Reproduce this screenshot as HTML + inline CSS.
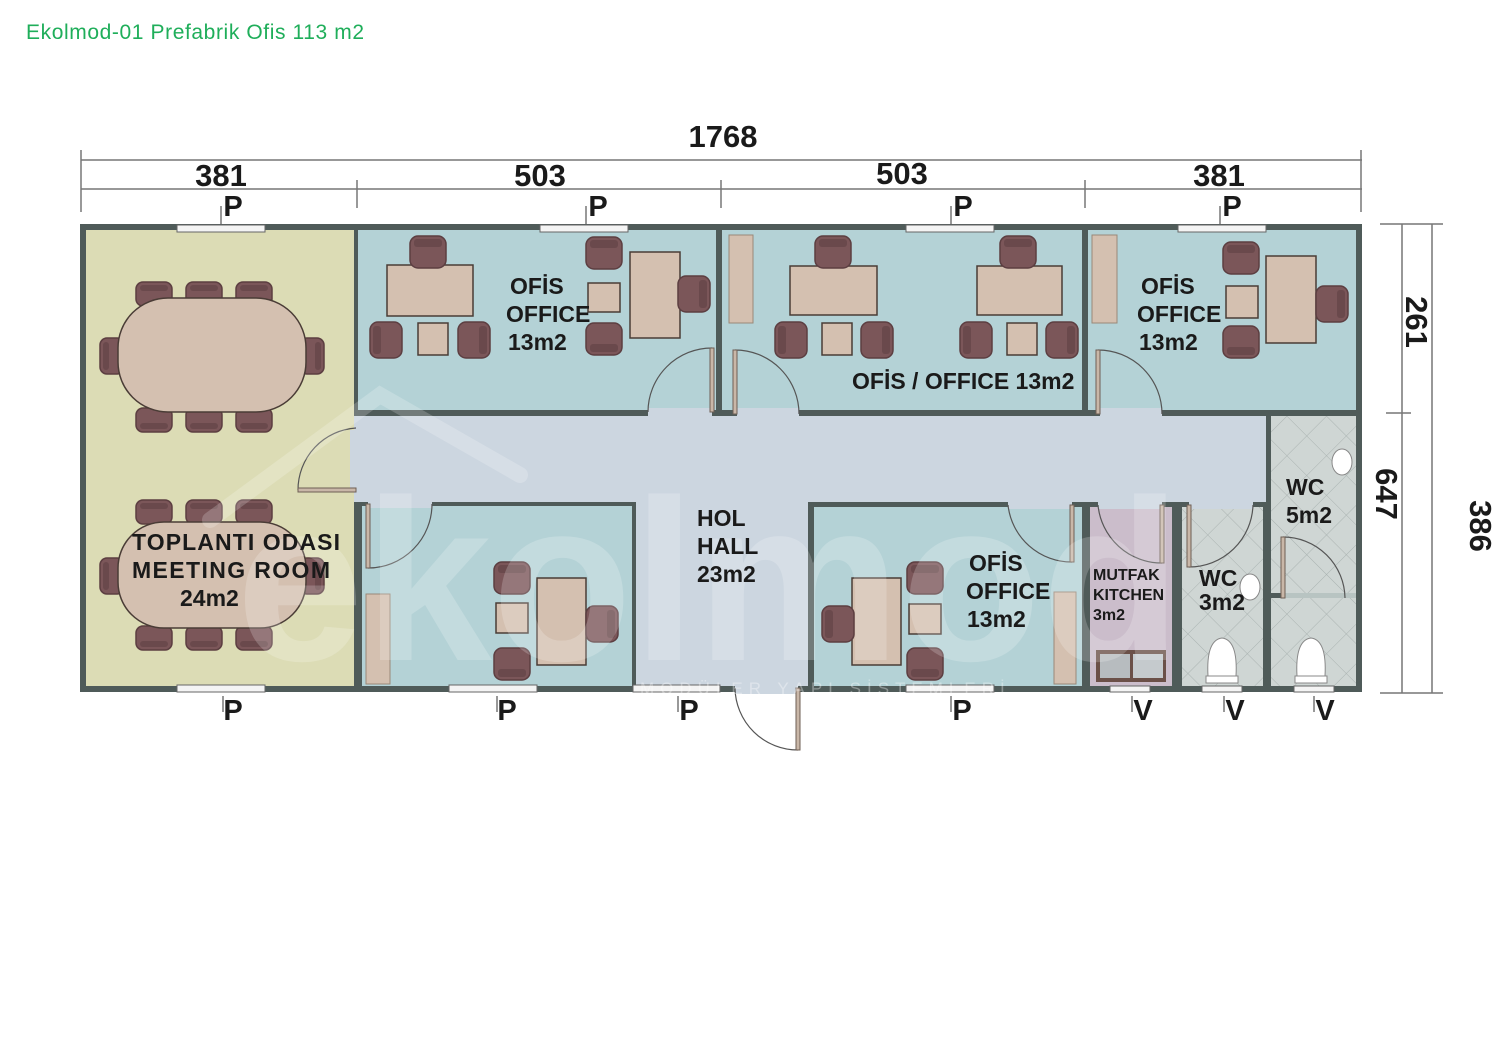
<!DOCTYPE html>
<html><head><meta charset="utf-8"><style>
html,body{margin:0;padding:0;background:#fff;}
svg{display:block;}
</style></head><body>
<svg width="1500" height="1040" viewBox="0 0 1500 1040" xmlns="http://www.w3.org/2000/svg" font-family="Liberation Sans, Arial, sans-serif">
<defs>
<pattern id="tile" width="28" height="28" patternUnits="userSpaceOnUse" patternTransform="rotate(45)">
<rect width="28" height="28" fill="#cfd6d4"/>
<path d="M0 0H28M0 0V28" stroke="#aab3b1" stroke-width="1" fill="none"/>
</pattern>
<g id="ch"><rect x="0" y="0" width="36" height="32" rx="8" fill="#7b5659" stroke="#5c3e41" stroke-width="1.5"/><rect x="4" y="3" width="28" height="8" rx="3" fill="#6a494c"/></g>
<g id="mc"><rect x="0" y="0" width="36" height="24" rx="7" fill="#7b5659" stroke="#5c3e41" stroke-width="1.5"/><rect x="4" y="3" width="28" height="6" rx="3" fill="#6a494c"/></g>
</defs>
<text x="26" y="39" font-size="21" fill="#1fae5a" letter-spacing="0.6">Ekolmod-01 Prefabrik Ofis 113 m2</text>

<!-- dimensions -->
<g stroke="#777" stroke-width="1.5" fill="none">
<line x1="81" y1="160" x2="1362" y2="160"/>
<line x1="81" y1="189" x2="1362" y2="189"/>
<line x1="81" y1="150" x2="81" y2="212"/>
<line x1="1361" y1="150" x2="1361" y2="212"/>
<line x1="357" y1="180" x2="357" y2="208"/>
<line x1="721" y1="180" x2="721" y2="208"/>
<line x1="1085" y1="180" x2="1085" y2="208"/>
<line x1="221" y1="206" x2="221" y2="224"/><line x1="586" y1="206" x2="586" y2="224"/><line x1="951" y1="206" x2="951" y2="224"/><line x1="1220" y1="206" x2="1220" y2="224"/>
<line x1="1402" y1="224" x2="1402" y2="693"/>
<line x1="1432" y1="224" x2="1432" y2="693"/>
<line x1="1380" y1="224" x2="1443" y2="224"/>
<line x1="1380" y1="693" x2="1443" y2="693"/>
<line x1="1386" y1="413" x2="1411" y2="413"/>
<line x1="223" y1="696" x2="223" y2="712"/><line x1="497" y1="696" x2="497" y2="712"/><line x1="678" y1="696" x2="678" y2="712"/><line x1="951" y1="696" x2="951" y2="712"/><line x1="1132" y1="696" x2="1132" y2="712"/><line x1="1224" y1="696" x2="1224" y2="712"/><line x1="1314" y1="696" x2="1314" y2="712"/>
</g>
<g font-size="31" font-weight="bold" fill="#1a1a1a" text-anchor="middle">
<text x="723" y="147">1768</text>
<text x="221" y="186">381</text>
<text x="540" y="186">503</text>
<text x="902" y="184">503</text>
<text x="1219" y="186">381</text>
<text transform="translate(1406,322) rotate(90)">261</text>
<text transform="translate(1376,494) rotate(90)">647</text>
<text transform="translate(1470,526) rotate(90)">386</text>
</g>
<g font-size="29" font-weight="bold" fill="#1a1a1a" text-anchor="middle">
<text x="233" y="216">P</text><text x="598" y="216">P</text><text x="963" y="216">P</text><text x="1232" y="216">P</text>
<text x="233" y="720">P</text><text x="507" y="720">P</text><text x="689" y="720">P</text><text x="962" y="720">P</text>
<text x="1143" y="720">V</text><text x="1235" y="720">V</text><text x="1325" y="720">V</text>
</g>

<!-- floors -->
<rect x="80" y="224" width="1282" height="468" fill="#4f5b59"/>
<rect x="86" y="230" width="268" height="456" fill="#dcdcb5"/>
<rect x="358" y="230" width="358" height="180" fill="#b4d2d6"/>
<rect x="722" y="230" width="360" height="180" fill="#b4d2d6"/>
<rect x="1088" y="230" width="268" height="180" fill="#b4d2d6"/>
<rect x="354" y="416" width="912" height="86" fill="#ccd6e0"/>
<rect x="636" y="500" width="172" height="186" fill="#ccd6e0"/>
<rect x="362" y="506" width="270" height="180" fill="#b4d2d6"/>
<rect x="814" y="507" width="268" height="179" fill="#b4d2d6"/>
<rect x="1090" y="507" width="82" height="179" fill="#cbbdcb"/>
<rect x="1182" y="507" width="81" height="179" fill="url(#tile)"/>
<rect x="1271" y="416" width="85" height="270" fill="url(#tile)"/>
<rect x="1271" y="593" width="85" height="5" fill="#b8c4c2"/>
<rect x="1263" y="593" width="22" height="5" fill="#4f5b59"/>

<!-- wall openings (doors) -->
<rect x="648" y="408" width="64" height="10" fill="#ccd6e0"/>
<rect x="737" y="408" width="62" height="10" fill="#ccd6e0"/>
<rect x="1100" y="408" width="62" height="10" fill="#ccd6e0"/>
<rect x="350" y="430" width="10" height="62" fill="#ccd6e0"/>
<rect x="368" y="498" width="64" height="10" fill="#ccd6e0"/>
<rect x="1008" y="499" width="64" height="10" fill="#ccd6e0"/>
<rect x="1098" y="499" width="64" height="10" fill="#ccd6e0"/>
<rect x="1189" y="499" width="64" height="10" fill="#ccd6e0"/>
<rect x="735" y="684" width="63" height="10" fill="#ccd6e0"/>

<!-- windows -->
<g fill="#f4f4f4" stroke="#666" stroke-width="1">
<rect x="177" y="225" width="88" height="7"/><rect x="540" y="225" width="88" height="7"/><rect x="906" y="225" width="88" height="7"/><rect x="1178" y="225" width="88" height="7"/>
<rect x="177" y="685" width="88" height="7"/><rect x="449" y="685" width="88" height="7"/><rect x="633" y="685" width="87" height="7"/><rect x="906" y="685" width="88" height="7"/>
<rect x="1110" y="686" width="40" height="6"/><rect x="1202" y="686" width="40" height="6"/><rect x="1294" y="686" width="40" height="6"/>
</g>

<!-- doors -->
<g fill="none" stroke="#555" stroke-width="1.2">
<path d="M648 412 A64 64 0 0 1 712 348"/>
<path d="M735 350 A64 64 0 0 1 799 414"/>
<path d="M1098 350 A64 64 0 0 1 1162 414"/>
<path d="M298 490 A62 62 0 0 1 356 428"/>
<path d="M432 504 A64 64 0 0 1 368 568"/>
<path d="M1008 505 A64 64 0 0 0 1072 562"/>
<path d="M1098 505 A64 64 0 0 0 1162 563"/>
<path d="M1253 505 A64 64 0 0 1 1189 567"/>
<path d="M1283 537 A62 62 0 0 1 1345 598"/>
<path d="M735 688 A63 63 0 0 0 798 750"/>
</g>
<g fill="#c9b7a8" stroke="#6e5f55" stroke-width="1">
<rect x="710" y="348" width="4" height="64"/>
<rect x="733" y="350" width="4" height="64"/>
<rect x="1096" y="350" width="4" height="64"/>
<rect x="298" y="488" width="58" height="4"/>
<rect x="366" y="504" width="4" height="64"/>
<rect x="1070" y="505" width="4" height="57"/>
<rect x="1160" y="505" width="4" height="58"/>
<rect x="1187" y="505" width="4" height="62"/>
<rect x="1281" y="537" width="4" height="61"/>
<rect x="796" y="688" width="4" height="62"/>
</g>

<!-- meeting chairs (behind tables) -->
<g>
<use href="#mc" x="136" y="282"/><use href="#mc" x="186" y="282"/><use href="#mc" x="236" y="282"/>
<use href="#mc" transform="translate(172,432) rotate(180)"/><use href="#mc" transform="translate(222,432) rotate(180)"/><use href="#mc" transform="translate(272,432) rotate(180)"/>
<use href="#mc" transform="translate(100,374) rotate(-90)"/><use href="#mc" transform="translate(324,338) rotate(90)"/>
<use href="#mc" x="136" y="500"/><use href="#mc" x="186" y="500"/><use href="#mc" x="236" y="500"/>
<use href="#mc" transform="translate(172,650) rotate(180)"/><use href="#mc" transform="translate(222,650) rotate(180)"/><use href="#mc" transform="translate(272,650) rotate(180)"/>
<use href="#mc" transform="translate(100,594) rotate(-90)"/><use href="#mc" transform="translate(324,558) rotate(90)"/>
</g>

<!-- furniture: desks -->
<g fill="#d4c0b0" stroke="#4a3c36" stroke-width="1.5">
<rect x="118" y="298" width="188" height="114" rx="50"/>
<rect x="118" y="522" width="188" height="106" rx="46"/>
<rect x="387" y="265" width="86" height="51"/>
<rect x="630" y="252" width="50" height="86"/>
<rect x="790" y="266" width="87" height="49"/>
<rect x="977" y="266" width="85" height="49"/>
<rect x="1266" y="256" width="50" height="87"/>
<rect x="537" y="578" width="49" height="87"/>
<rect x="852" y="578" width="49" height="87"/>
<rect x="418" y="323" width="30" height="32"/>
<rect x="588" y="283" width="32" height="29"/>
<rect x="822" y="323" width="30" height="32"/>
<rect x="1007" y="323" width="30" height="32"/>
<rect x="1226" y="286" width="32" height="32"/>
<rect x="496" y="603" width="32" height="30"/>
<rect x="909" y="604" width="32" height="30"/>
</g>
<g fill="#d4c0b0" stroke="#9a8878" stroke-width="1">
<rect x="729" y="235" width="24" height="88"/>
<rect x="1092" y="235" width="25" height="88"/>
<rect x="366" y="594" width="24" height="90"/>
<rect x="1054" y="592" width="22" height="92"/>
</g>

<!-- office chairs -->
<g>
<use href="#ch" x="410" y="236"/>
<use href="#ch" transform="translate(370,358) rotate(-90)"/><use href="#ch" transform="translate(490,322) rotate(90)"/>
<use href="#ch" x="586" y="237"/><use href="#ch" transform="translate(622,355) rotate(180)"/>
<use href="#ch" transform="translate(710,276) rotate(90)"/>
<use href="#ch" x="815" y="236"/>
<use href="#ch" transform="translate(775,358) rotate(-90)"/><use href="#ch" transform="translate(893,322) rotate(90)"/>
<use href="#ch" x="1000" y="236"/>
<use href="#ch" transform="translate(960,358) rotate(-90)"/><use href="#ch" transform="translate(1078,322) rotate(90)"/>
<use href="#ch" x="1223" y="242"/><use href="#ch" transform="translate(1259,358) rotate(180)"/>
<use href="#ch" transform="translate(1348,286) rotate(90)"/>
<use href="#ch" x="494" y="562"/><use href="#ch" transform="translate(530,680) rotate(180)"/>
<use href="#ch" transform="translate(618,606) rotate(90)"/>
<use href="#ch" x="907" y="562"/><use href="#ch" transform="translate(943,680) rotate(180)"/>
<use href="#ch" transform="translate(822,642) rotate(-90)"/>
</g>

<!-- sink & toilets -->
<rect x="1096" y="650" width="70" height="32" fill="#6b5048"/>
<rect x="1100" y="654" width="30" height="24" fill="#b7bcbf"/><rect x="1133" y="654" width="30" height="24" fill="#c5cacd"/>
<g fill="#fff" stroke="#888" stroke-width="1">
<path d="M1208 676 Q1206 640 1222 638 Q1238 640 1236 676Z"/><rect x="1206" y="676" width="32" height="7"/>
<path d="M1297 676 Q1295 640 1311 638 Q1327 640 1325 676Z"/><rect x="1295" y="676" width="32" height="7"/>
<ellipse cx="1342" cy="462" rx="10" ry="13"/>
<ellipse cx="1250" cy="587" rx="10" ry="13"/>
</g>

<!-- watermark -->
<text x="236" y="660" font-size="230" font-weight="bold" fill="#ffffff" fill-opacity="0.2">ekolmod</text>
<path d="M210 520 L380 395 L520 475" fill="none" stroke="#fff" stroke-opacity="0.2" stroke-width="16" stroke-linecap="round"/>
<text x="640" y="694" font-size="17" fill="#ffffff" fill-opacity="0.35" letter-spacing="6">MODÜLER YAPI SİSTEMLERİ</text>

<!-- labels -->
<g font-size="23" font-weight="bold" fill="#1a1a1a">
<text x="510" y="294">OFİS</text><text x="506" y="322">OFFICE</text><text x="508" y="350">13m2</text>
<text x="852" y="389">OFİS / OFFICE 13m2</text>
<text x="1141" y="294">OFİS</text><text x="1137" y="322">OFFICE</text><text x="1139" y="350">13m2</text>
<text x="132" y="550" textLength="208">TOPLANTI ODASI</text><text x="132" y="578" textLength="198">MEETING ROOM</text><text x="180" y="606">24m2</text>
<text x="697" y="526">HOL</text><text x="697" y="554">HALL</text><text x="697" y="582">23m2</text>
<text x="969" y="571">OFİS</text><text x="966" y="599">OFFICE</text><text x="967" y="627">13m2</text>
<text x="1199" y="586">WC</text><text x="1199" y="610">3m2</text>
<text x="1286" y="495">WC</text><text x="1286" y="523">5m2</text>
</g>
<g font-size="16" font-weight="bold" fill="#1a1a1a">
<text x="1093" y="580">MUTFAK</text><text x="1093" y="600">KITCHEN</text><text x="1093" y="620">3m2</text>
</g>
</svg>
</body></html>
